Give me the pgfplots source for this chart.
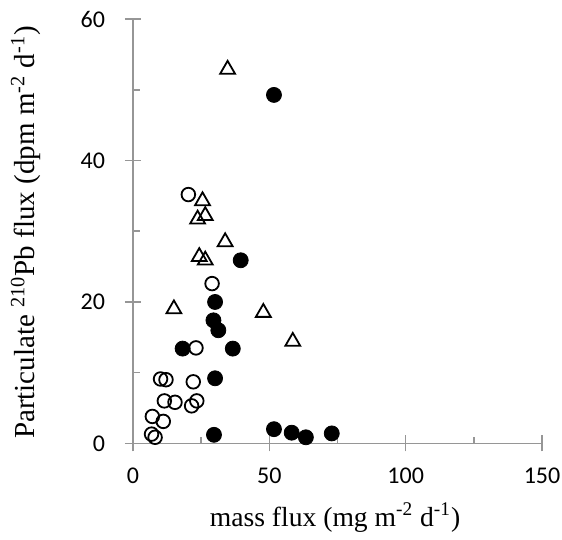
\documentclass[border=0pt]{standalone}
\usepackage{pgfplots}
\pgfplotsset{compat=1.18}
\usepackage{fontspec}
\setmainfont{Liberation Serif}
\newfontfamily\calibri{Carlito}
\definecolor{axisgray}{RGB}{150,150,150}
\begin{document}
\begin{tikzpicture}
\useasboundingbox (-66.5pt,-48.35pt) rectangle (214.5pt,221.65pt);
\begin{axis}[
  at={(0,0)}, anchor=origin,
  scale only axis, width=204.5pt, height=212pt,
  xmin=0, xmax=150, ymin=0, ymax=60,
  axis lines=left, axis line style={axisgray, line width=0.8pt, -},
  xtick={0,50,100,150}, ytick={0,20,40,60},
  minor tick num=1,
  tick align=inside,
  major tick length=8pt, minor tick length=3.3pt,
  every major x tick/.append style={yshift=-4pt},
  every major y tick/.append style={xshift=-4pt},
  tick style={axisgray, line width=0.8pt},
  /pgf/number format/assume math mode=true,
  ticklabel style={font=\calibri\fontsize{12}{14}\selectfont, text=black},
  xticklabel style={yshift=-9pt},
  yticklabel style={xshift=-10.5pt},
  xlabel={mass flux (mg m\textsuperscript{-2} d\textsuperscript{-1})},
  ylabel={Particulate \textsuperscript{210}Pb flux (dpm m\textsuperscript{-2} d\textsuperscript{-1})},
  xlabel style={font=\fontsize{13.8}{15}\selectfont, at={(axis description cs:0.494,-0.175)}, anchor=center},
  ylabel style={font=\fontsize{14.5}{16}\selectfont, at={(axis description cs:-0.262,0.497)}, anchor=center, rotate=0},
  clip=false,
]
% open circles
\addplot[only marks, mark=o, mark size=3.4pt, mark options={line width=0.9pt, draw=black, fill=white}] coordinates {
(20.3,35.2) (29.0,22.6) (23.1,13.5) (10.1,9.1) (12.1,9.0) (22.1,8.7)
(11.5,6.0) (15.4,5.8) (23.4,6.0) (21.5,5.3) (7.1,3.8) (11.1,3.1)
(6.8,1.3) (8.1,0.85)
};
% open triangles
\addplot[only marks, mark=triangle, mark size=4.3pt, mark options={line width=0.9pt, draw=black, fill=white}] coordinates {
(34.7,52.9) (25.5,34.3) (26.5,32.2) (23.7,31.7) (33.8,28.5) (24.3,26.4)
(26.5,25.9) (15.0,19.0) (47.8,18.5) (58.6,14.4)
};
% filled circles
\addplot[only marks, mark=*, mark size=3.75pt, mark options={draw=black, fill=black}] coordinates {
(51.7,49.3) (39.5,25.9) (30.1,20.0) (29.5,17.4) (31.3,16.0) (18.2,13.4)
(36.6,13.4) (30.1,9.2) (29.7,1.2) (51.7,2.0) (58.2,1.5) (63.4,0.85) (72.9,1.4)
};
\end{axis}
\end{tikzpicture}
\end{document}
